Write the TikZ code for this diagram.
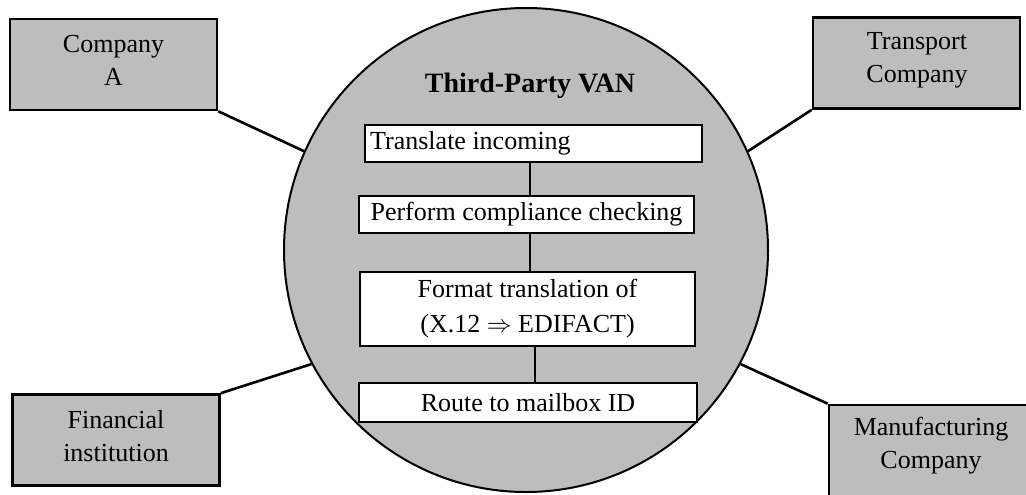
\documentclass[tikz,border=0pt]{standalone}
\usepackage{fontspec}
\setmainfont{Liberation Serif}
\definecolor{dither}{HTML}{BDBDBD}
\begin{document}
\begin{tikzpicture}[x=1pt,y=-1pt,
  outerbox/.style={draw=black,fill=dither,line width=2.6pt,minimum width=207pt,minimum height=91pt,inner sep=0pt},
  lbl/.style={align=center,font=\fontsize{26}{33}\selectfont,inner sep=0pt},
  stepbox/.style={draw=black,fill=white,line width=2.4pt,inner sep=0pt,font=\fontsize{26}{35}\selectfont,align=center},
  link/.style={line width=2.6pt},
  vlink/.style={line width=1.6pt}]
\useasboundingbox (0,0) rectangle (1026,495);
% circle
\node[circle,draw=black,fill=dither,line width=2pt,minimum size=484pt,inner sep=0pt] (van) at (526,250) {};
\node[font=\bfseries\fontsize{28}{30}\selectfont,inner sep=0pt] (title) at (530,86) {Third-Party VAN};
% inner steps
\node[stepbox,minimum width=337pt,minimum height=37pt] (t) at (533.5,143.5) {};
\node[font=\fontsize{26}{30}\selectfont,inner sep=0pt,anchor=west] (ttext) at (370,143.5) {Translate incoming};
\node[stepbox,minimum width=335pt,minimum height=37pt] (p) at (526.5,214.5) {Perform compliance checking};
\node[stepbox,minimum width=335pt,minimum height=74pt] (f) at (527.5,309) {Format translation of\\(X.12 $\Rightarrow$ EDIFACT)};
\node[stepbox,minimum width=338pt,minimum height=39pt] (r) at (528,402.5) {Route to mailbox ID};
\coordinate (x1) at (530,0);
\coordinate (x2) at (535,0);
\draw[vlink] (t.south -| x1) -- (p.north -| x1);
\draw[vlink] (p.south -| x1) -- (f.north -| x1);
\draw[vlink] (f.south -| x2) -- (r.north -| x2);
% outer boxes
\node[outerbox] (ca) at (113.5,64.5) {};
\node[lbl] (catext) at (113.5,60) {Company\\A};
\node[outerbox] (tc) at (916.5,63) {};
\node[lbl] (tctext) at (917,60) {Transport\\Company};
\node[outerbox] (fi) at (116,440) {};
\node[lbl] (fitext) at (116,436) {Financial\\institution};
\node[outerbox] (mc) at (932.5,450.5) {};
\node[lbl] (mctext) at (931,446) {Manufacturing\\Company};
% connectors
\draw[link] (ca.south east) -- (van.156.5);
\draw[link] (tc.south west) -- (van.24);
\draw[link] (fi.north east) -- (van.208);
\draw[link] (mc.north west) -- (van.332);
\end{tikzpicture}
\end{document}
